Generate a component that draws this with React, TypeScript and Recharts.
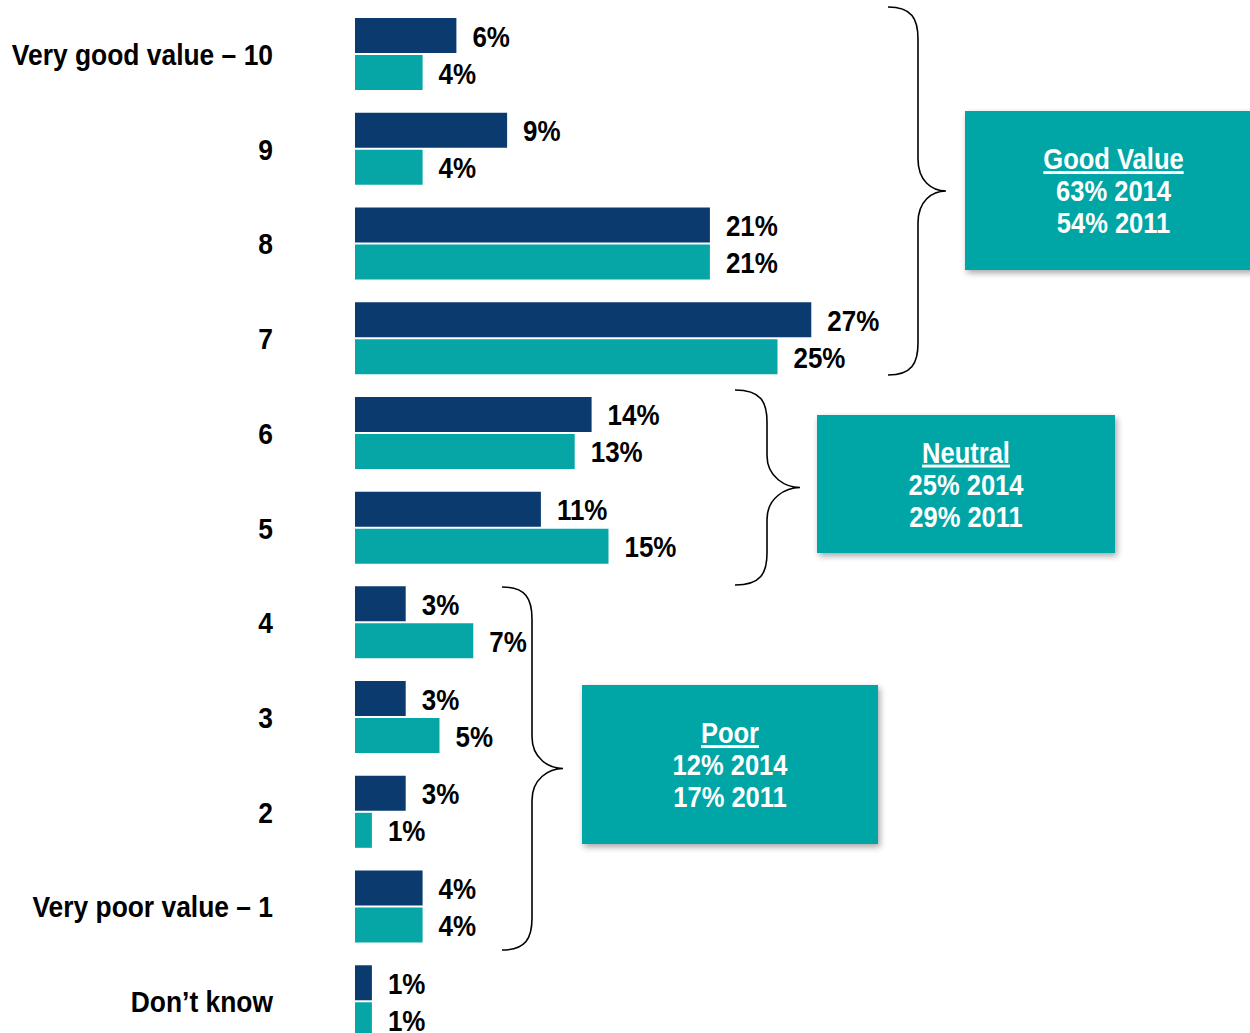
import { Bar, BarChart, Customized, LabelList, XAxis, YAxis } from "recharts";

const CATEGORIES = [
  "Very good value – 10",
  "9",
  "8",
  "7",
  "6",
  "5",
  "4",
  "3",
  "2",
  "Very poor value – 1",
  "Don’t know",
];
const VALUES_2014 = [6, 9, 21, 27, 14, 11, 3, 3, 3, 4, 1];
const VALUES_2011 = [4, 4, 21, 25, 13, 15, 7, 5, 1, 4, 1];

const GROUP_TITLES = ["Good Value", "Neutral", "Poor"];
const GROUP_2014 = ["63% 2014", "25% 2014", "12% 2014"];
const GROUP_2011 = ["54% 2011", "29% 2011", "17% 2011"];

const NAVY = "#0a3a6e";
const TEAL = "#06a6a6";
const FONT = "'Liberation Sans', Arial, sans-serif";
const SQUEEZE = 0.88; // arial narrow look

const data = CATEGORIES.map((c, i) => ({
  name: c,
  y2014: VALUES_2014[i],
  y2011: VALUES_2011[i],
}));

// brace + box placement for the three groups (annotation layout only)
const BRACES = [
  { top: 7, bottom: 375, tip: 888, spine: 918, point: 946 },
  { top: 390, bottom: 585, tip: 735, spine: 767, point: 800 },
  { top: 587, bottom: 950, tip: 502, spine: 532, point: 563 },
];
const BOXES = [
  { x: 965, y: 111, w: 297, h: 159 },
  { x: 817, y: 415, w: 298, h: 138 },
  { x: 582, y: 685, w: 296, h: 159 },
];

function NarrowText({
  x,
  y,
  anchor = "start",
  size = 29,
  fill = "#000",
  underline = false,
  children,
}: any) {
  return (
    <text
      transform={`translate(${x} ${y}) scale(${SQUEEZE} 1)`}
      textAnchor={anchor}
      fontSize={size}
      fontWeight={700}
      fill={fill}
      fontFamily={FONT}
      style={underline ? { textDecoration: "underline" } : undefined}
    >
      {children}
    </text>
  );
}

function bracePath(b: (typeof BRACES)[number]) {
  const mid = (b.top + b.bottom) / 2;
  const r = 32;
  return [
    `M ${b.tip} ${b.top}`,
    `C ${b.spine - 6} ${b.top} ${b.spine} ${b.top + 12} ${b.spine} ${b.top + r}`,
    `L ${b.spine} ${mid - r}`,
    `C ${b.spine} ${mid - 10} ${b.point - 14} ${mid} ${b.point} ${mid}`,
    `C ${b.point - 14} ${mid} ${b.spine} ${mid + 10} ${b.spine} ${mid + r}`,
    `L ${b.spine} ${b.bottom - r}`,
    `C ${b.spine} ${b.bottom - 12} ${b.spine - 6} ${b.bottom} ${b.tip} ${b.bottom}`,
  ].join(" ");
}

function Annotations() {
  return (
    <g>
      <defs>
        <filter id="boxShadow" x="-10%" y="-10%" width="130%" height="140%">
          <feDropShadow dx="2" dy="3" stdDeviation="3" floodColor="#000" floodOpacity="0.35" />
        </filter>
      </defs>
      {BRACES.map((b, i) => (
        <path key={"b" + i} d={bracePath(b)} fill="none" stroke="#000" strokeWidth={1.6} />
      ))}
      {BOXES.map((b, i) => {
        const cx = b.x + b.w / 2;
        const cy = b.y + b.h / 2 + 10.5;
        return (
          <g key={"box" + i}>
            <rect x={b.x} y={b.y} width={b.w} height={b.h} fill={TEAL} filter="url(#boxShadow)" />
            <NarrowText x={cx} y={cy - 32} anchor="middle" fill="#fff" underline>
              {GROUP_TITLES[i]}
            </NarrowText>
            <NarrowText x={cx} y={cy} anchor="middle" fill="#fff">
              {GROUP_2014[i]}
            </NarrowText>
            <NarrowText x={cx} y={cy + 32} anchor="middle" fill="#fff">
              {GROUP_2011[i]}
            </NarrowText>
          </g>
        );
      })}
    </g>
  );
}

function CategoryTick({ x, y, payload }: any) {
  return (
    <NarrowText x={x - 80} y={y + 10.5} anchor="end" size={30}>
      {payload.value}
    </NarrowText>
  );
}

function ValueLabel({ x, y, width, height, value }: any) {
  return (
    <NarrowText x={x + width + 16} y={y + height / 2 + 11} size={29.5}>
      {`${value}%`}
    </NarrowText>
  );
}

export default function App() {
  return (
    <div
      style={{
        position: "absolute",
        left: 0,
        top: 0,
        width: 1250,
        height: 1033,
        overflow: "hidden",
        background: "#fff",
      }}
    >
      <BarChart
        width={1250}
        height={1049}
        data={data}
        layout="vertical"
        margin={{ top: 7, right: 219, bottom: 0, left: 0 }}
        barSize={35}
        barGap={2}
      >
        <XAxis type="number" domain={[0, 40]} hide />
        <YAxis
          type="category"
          dataKey="name"
          width={355}
          axisLine={false}
          tickLine={false}
          tickSize={0}
          interval={0}
          tick={<CategoryTick />}
        />
        <Bar dataKey="y2014" fill={NAVY} isAnimationActive={false}>
          <LabelList dataKey="y2014" content={<ValueLabel />} />
        </Bar>
        <Bar dataKey="y2011" fill={TEAL} isAnimationActive={false}>
          <LabelList dataKey="y2011" content={<ValueLabel />} />
        </Bar>
        <Customized component={<Annotations />} />
      </BarChart>
    </div>
  );
}
